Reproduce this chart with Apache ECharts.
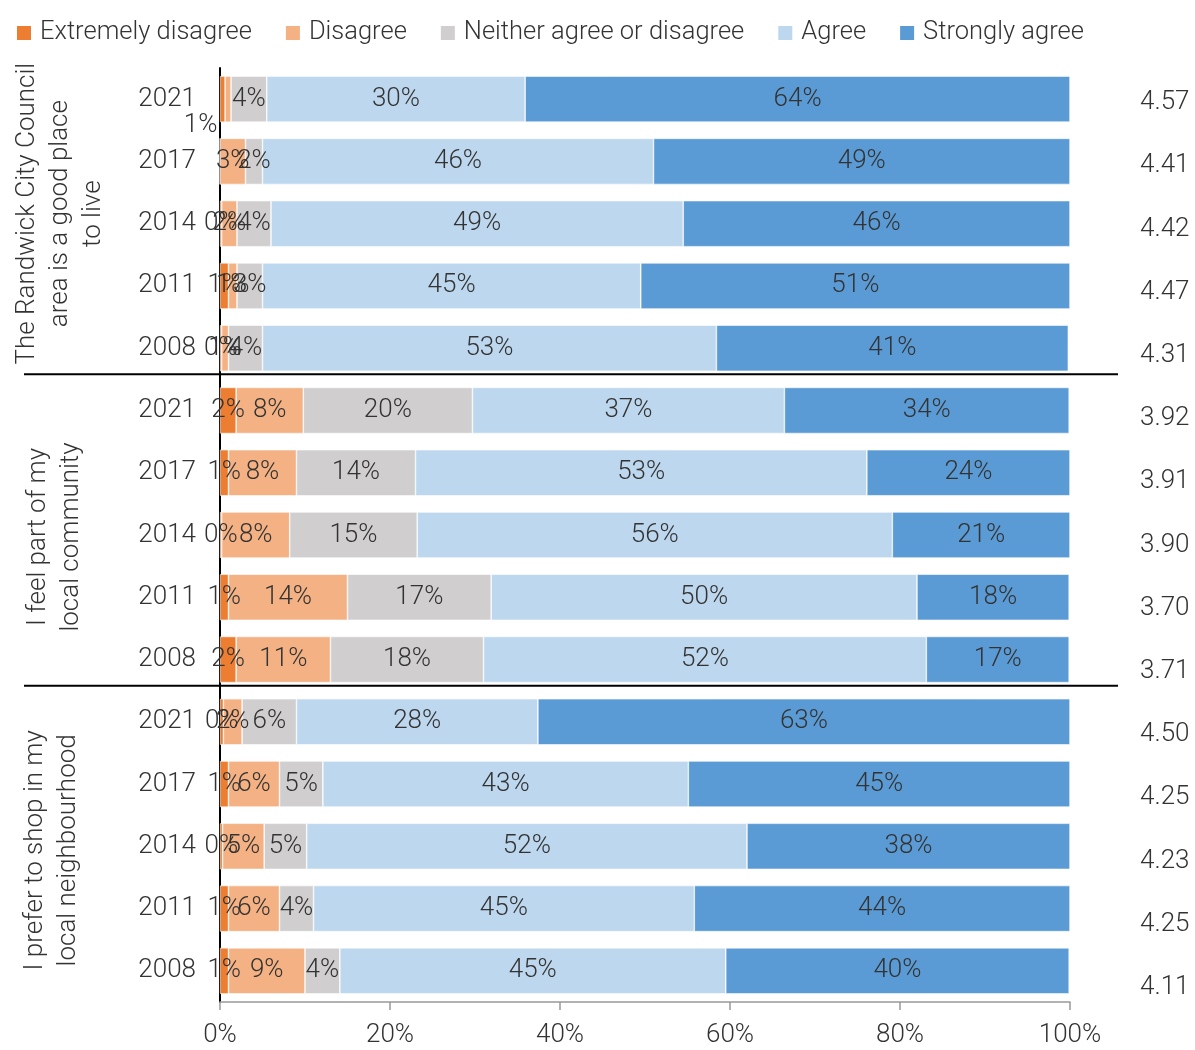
<!DOCTYPE html>
<html>
<head>
<meta charset="utf-8">
<script src="https://cdn.jsdelivr.net/npm/echarts@6/dist/echarts.min.js"></script>
<style>html,body{margin:0;padding:0;background:#fff}#c{width:1195px;height:1050px}</style>
</head>
<body>
<div id="c"></div>
<script>
// ---------- data ----------
var years = ['2021','2017','2014','2011','2008','2021','2017','2014','2011','2008','2021','2017','2014','2011','2008'];
var seriesNames = ['Extremely disagree','Disagree','Neither agree or disagree','Agree','Strongly agree'];
var extremelyDisagree = [0.6, 0, 0.2, 1.0, 0.2, 1.9, 1.0, 0.2, 1.0, 1.9, 0.4, 1.0, 0.3, 1.0, 1.0];
var disagree          = [0.7, 3.0, 1.8, 1.0, 0.8, 7.9, 8.0, 8.0, 14.0, 11.1, 2.2, 6.0, 4.9, 6.0, 9.0];
var neither           = [4.2, 2.0, 4.0, 3.0, 4.0, 19.9, 14.0, 15.0, 16.9, 18.0, 6.4, 5.1, 5.0, 4.0, 4.1];
var agree             = [30.4, 46.0, 48.5, 44.5, 53.4, 36.7, 53.1, 55.9, 50.1, 52.1, 28.4, 43.0, 51.8, 44.8, 45.4];
var stronglyAgree     = [64.1, 49.0, 45.5, 50.5, 41.4, 33.5, 23.9, 20.9, 17.9, 16.8, 62.6, 44.9, 38.0, 44.2, 40.4];
var meanScores = [4.57, 4.41, 4.42, 4.47, 4.31, 3.92, 3.91, 3.90, 3.70, 3.71, 4.50, 4.25, 4.23, 4.25, 4.11];
var groupTitles = [
  'The Randwick City Council\narea is a good place\nto live',
  'I feel part of my\nlocal community',
  'I prefer to shop in my\nlocal neighbourhood'
];
var xTicks = [0, 20, 40, 60, 80, 100];

// ---------- styling ----------
var FONT = 'Roboto,"Noto Sans",sans-serif';
var FW = 300;
var colors = ['#ED7D31','#F4B183','#D0CECE','#BDD7EE','#5B9BD5'];
var values = [extremelyDisagree, disagree, neither, agree, stronglyAgree];

function buildData(si) {
  return values[si].map(function (v, i) {
    var item = { value: v };
    if (v === 0) item.label = { show: false };
    // first row: the small labels in the reference are displaced / hidden
    if (i === 0 && si === 0) item.label = { offset: [-22, 26] };
    if (i === 0 && si === 1) item.label = { show: false };
    return item;
  });
}

var series = seriesNames.map(function (name, si) {
  return {
    name: name,
    type: 'bar',
    stack: 'total',
    barCategoryGap: '26%',
    itemStyle: { color: colors[si], borderColor: '#ffffff', borderWidth: 0.6 },
    label: {
      show: true,
      position: 'inside',
      color: '#333333',
      fontFamily: FONT, fontWeight: FW,
      fontSize: 26,
      formatter: function (p) { return Math.round(p.value) + '%'; }
    },
    emphasis: { disabled: true },
    data: buildData(si)
  };
});

// helper series on the second grid (for the mean score column)
series.push({
  type: 'bar', xAxisIndex: 1, yAxisIndex: 1, data: meanScores.map(function () { return 0; }),
  silent: true, itemStyle: { color: 'transparent' }
});

var chart = echarts.init(document.getElementById('c'), null, { renderer: 'canvas' });
chart.setOption({
  animation: false,
  textStyle: { fontFamily: FONT, fontWeight: FW },
  color: colors,
  legend: {
    data: seriesNames,
    left: 10, top: 15,
    itemWidth: 16, itemHeight: 16, itemGap: 32,
    icon: 'rect',
    textStyle: { fontFamily: FONT, fontWeight: FW, fontSize: 25.5, color: '#333333', padding: [0, 0, 0, 3] }
  },
  grid: [
    { left: 220, right: 125, top: 68, bottom: 48 },
    { left: 220, right: 125, top: 71, bottom: 31 }
  ],
  xAxis: [{
    type: 'value', min: 0, max: 100, interval: 20,
    axisLine: { show: true, lineStyle: { color: '#999999', width: 1.5 } },
    axisTick: { show: true, length: 8, lineStyle: { color: '#999999', width: 1.5 } },
    splitLine: { show: false },
    axisLabel: { fontFamily: FONT, fontWeight: FW, fontSize: 26, color: '#333333', margin: 20,
      formatter: function (v) { return xTicks.indexOf(v) >= 0 ? v + '%' : ''; } }
  }, {
    gridIndex: 1, type: 'value', min: 0, max: 100, show: false
  }],
  yAxis: [{
    type: 'category', data: years, inverse: true,
    axisLine: { show: true, lineStyle: { color: '#000000', width: 2 } },
    axisTick: { show: false },
    axisLabel: { fontFamily: FONT, fontWeight: FW, fontSize: 26, color: '#333333', margin: 24 }
  }, {
    gridIndex: 1, type: 'category', data: meanScores.map(function (m) { return m.toFixed(2); }),
    inverse: true, position: 'right',
    axisLine: { show: false }, axisTick: { show: false },
    axisLabel: { fontFamily: FONT, fontWeight: FW, fontSize: 26, color: '#333333', margin: 70 }
  }],
  series: series
});

// separators and rotated group titles, positioned from the category scale
var centers = years.map(function (y, i) { return chart.convertToPixel({ yAxisIndex: 0 }, i); });
var graphics = [];
[4, 9].forEach(function (i) {
  var y = (centers[i] + centers[i + 1]) / 2 - 5;
  graphics.push({ type: 'line', shape: { x1: 24, y1: y, x2: 1118, y2: y },
    style: { stroke: '#000000', lineWidth: 2 }, z: 10 });
});
[{ idx: 2, x: 60, dy: -10 }, { idx: 7, x: 55, dy: 2 }, { idx: 12, x: 52, dy: 4 }].forEach(function (g, k) {
  graphics.push({ type: 'text', x: g.x, y: centers[g.idx] + g.dy, rotation: Math.PI / 2,
    style: { text: groupTitles[k], fontFamily: FONT, fontWeight: FW, fontSize: 26, fill: '#333333',
      align: 'center', verticalAlign: 'middle', lineHeight: 33 }, z: 10 });
});
chart.setOption({ graphic: graphics });
</script>
</body>
</html>
